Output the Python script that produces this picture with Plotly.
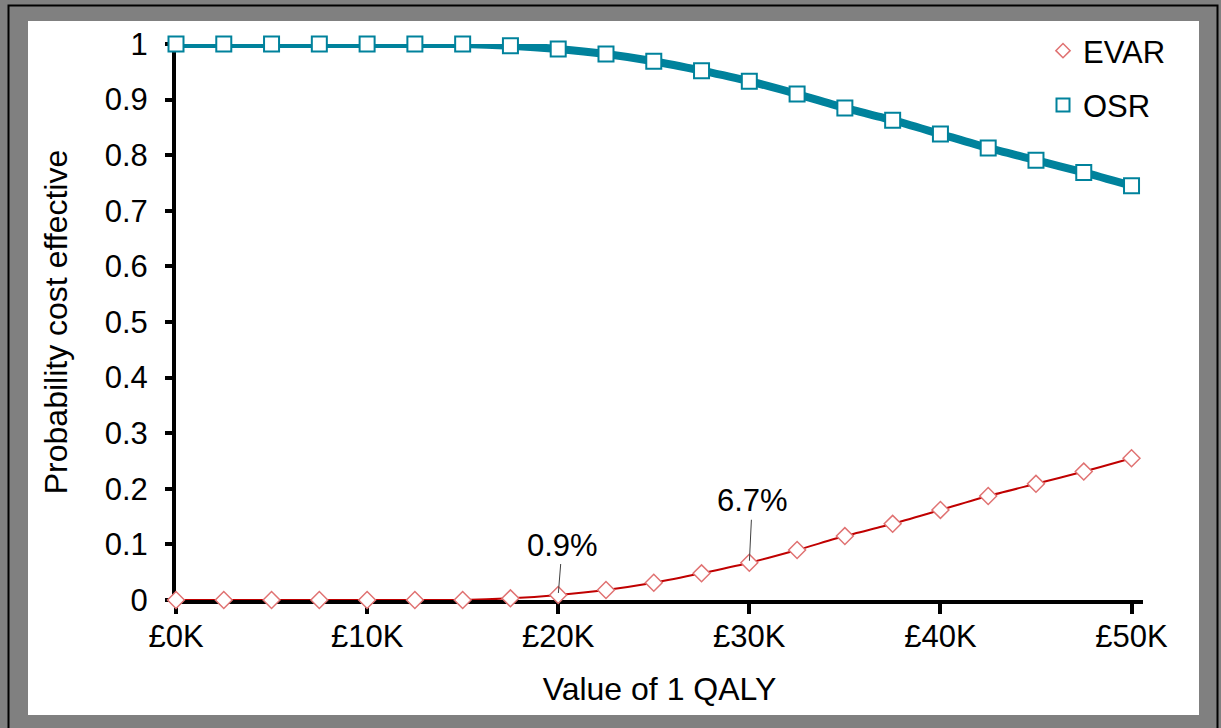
import plotly.graph_objects as go

# Willingness to pay per QALY (GBP)
wtp = [0, 2500, 5000, 7500, 10000, 12500, 15000, 17500, 20000, 22500, 25000,
       27500, 30000, 32500, 35000, 37500, 40000, 42500, 45000, 47500, 50000]

# Probability cost effective
osr = [1.0, 1.0, 1.0, 1.0, 1.0, 1.0, 1.0, 0.997, 0.991, 0.982, 0.969,
       0.952, 0.933, 0.910, 0.885, 0.863, 0.838, 0.813, 0.791, 0.769, 0.745]
evar = [0.0, 0.0, 0.0, 0.0, 0.0, 0.0, 0.0, 0.003, 0.009, 0.018, 0.031,
        0.048, 0.067, 0.090, 0.115, 0.137, 0.162, 0.187, 0.209, 0.231, 0.255]

x_ticks = [0, 10000, 20000, 30000, 40000, 50000]
x_labels = ["£0K", "£10K", "£20K", "£30K", "£40K", "£50K"]
y_ticks = [0, 0.1, 0.2, 0.3, 0.4, 0.5, 0.6, 0.7, 0.8, 0.9, 1]
y_labels = ["0", "0.1", "0.2", "0.3", "0.4", "0.5", "0.6", "0.7", "0.8", "0.9", "1"]

callouts = [(20000, 0.009, "0.9%", 4, -50), (30000, 0.067, "6.7%", 3, -62)]

TEAL = "#00829C"
RED = "#C00000"
PINK = "#E07272"
FONT = "Liberation Sans, Arial, sans-serif"

fig = go.Figure()

fig.add_trace(go.Scatter(
    x=wtp, y=osr, mode="lines+markers", name="OSR", showlegend=False,
    line=dict(color=TEAL, width=8, shape="spline", smoothing=0.6),
    marker=dict(symbol="square", size=15, color="white", line=dict(color=TEAL, width=2)),
    cliponaxis=False,
))
fig.add_trace(go.Scatter(
    x=wtp, y=evar, mode="lines+markers", name="EVAR", showlegend=False,
    line=dict(color=RED, width=2, shape="spline", smoothing=0.6),
    marker=dict(symbol="diamond", size=13, color="white", line=dict(color=PINK, width=1.5)),
    cliponaxis=False,
))

# legend entries show only the marker
fig.add_trace(go.Scatter(
    x=[None], y=[None], mode="markers", name="EVAR", legendgroup="a",
    marker=dict(symbol="diamond", size=11, color="white", line=dict(color=PINK, width=1.5)),
))
fig.add_trace(go.Scatter(
    x=[None], y=[None], mode="markers", name="OSR", legendgroup="b",
    marker=dict(symbol="square", size=13, color="white", line=dict(color=TEAL, width=2)),
))

for cx, cy, txt, ax, ay in callouts:
    fig.add_annotation(
        x=cx, y=cy, text=txt, showarrow=True, arrowhead=0, arrowwidth=1,
        arrowcolor="#404040", ax=ax, ay=ay, standoff=2,
        font=dict(family=FONT, size=31, color="black"),
    )

# outer frame: grey page, white card, thin black border
L, R, T, B = 176, 1143, 44, 600


def px(v):
    return (v - L) / (R - L)


def py(v):
    return (B - v) / (B - T)


fig.add_shape(type="rect", xref="paper", yref="paper", layer="below",
              x0=px(8.5), x1=px(1217.5), y0=py(760), y1=py(5.5),
              line=dict(color="black", width=2), fillcolor="#808080")
fig.add_shape(type="rect", xref="paper", yref="paper", layer="below",
              x0=px(28), x1=px(1199), y0=py(715), y1=py(21),
              line=dict(width=0), fillcolor="white")

fig.update_layout(
    width=1221, height=728,
    margin=dict(l=L, r=1221 - R, t=T, b=728 - B),
    paper_bgcolor="#808080", plot_bgcolor="white",
    font=dict(family=FONT, size=31, color="black"),
    legend=dict(x=px(1043), y=py(24), xanchor="left", yanchor="top",
                bgcolor="rgba(0,0,0,0)", tracegroupgap=11,
                font=dict(size=31), itemwidth=30),
)

fig.update_xaxes(
    range=[0, 50600], tickvals=x_ticks, ticktext=x_labels,
    showgrid=False, zeroline=False, showline=True, linecolor="black", linewidth=4,
    ticks="outside", ticklen=10, tickwidth=4, tickcolor="black",
    ticklabelstandoff=-4, layer="below traces",
    title=dict(text="Value of 1 QALY", standoff=25, font=dict(size=32)),
)
fig.update_yaxes(
    range=[0, 1], tickvals=y_ticks, ticktext=y_labels,
    showgrid=False, zeroline=False, showline=True, linecolor="black", linewidth=4,
    ticks="outside", ticklen=7, tickwidth=4, tickcolor="black",
    ticklabelstandoff=11, layer="below traces",
    title=dict(text="Probability cost effective", standoff=28, font=dict(size=32)),
)

fig.write_html(
    "out.html",
    config={"displayModeBar": False},
    post_script="document.body.style.margin='0';document.body.style.background='#808080';",
)
